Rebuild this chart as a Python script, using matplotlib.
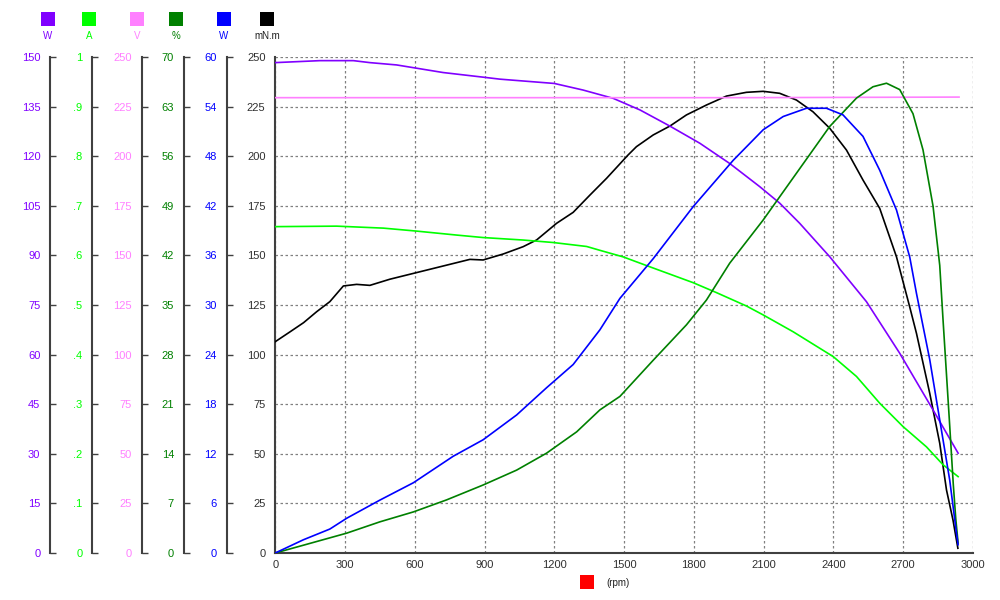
import matplotlib
matplotlib.use('Agg')
import matplotlib.pyplot as plt
from matplotlib.patches import Rectangle
from matplotlib.ticker import FuncFormatter

plt.rcParams['font.family'] = ['Liberation Sans', 'DejaVu Sans']

# torque (mN.m) - main axis
rpm_t = [0, 64, 122, 178, 235, 293, 350, 407, 493, 665, 837, 894, 980, 1066, 1124,
         1210, 1281, 1353, 1425, 1517, 1553, 1625, 1697, 1768, 1854, 1940, 2026, 2098,
         2169, 2241, 2312, 2384, 2456, 2527, 2599, 2671, 2728, 2757, 2814, 2857, 2886,
         2914, 2935]
torque = [106.5, 111.5, 116.1, 121.6, 126.7, 134.6, 135.4, 134.9, 138.0, 143.0, 148.0,
          147.7, 150.7, 154.4, 157.8, 166.2, 171.7, 180.4, 188.9, 200.6, 204.8, 210.7,
          215.2, 220.8, 225.8, 230.3, 232.2, 232.7, 231.7, 228.3, 222.4, 214.1, 203.1,
          188.0, 173.7, 149.3, 124.0, 110.7, 80.5, 55.3, 31.8, 16.6, 2.4]

# input power (W)
rpm_pin = [0, 193, 336, 407, 522, 722, 894, 966, 1200, 1324, 1453, 1568, 1697, 1826,
           1954, 2083, 2169, 2255, 2384, 2542, 2685, 2828, 2936]
p_in = [148.3, 148.9, 148.9, 148.3, 147.6, 145.3, 143.9, 143.3, 142.0, 140.0, 137.5,
        134.0, 129.1, 123.9, 117.8, 110.8, 105.8, 99.7, 89.6, 76.0, 60.4, 43.3, 30.2]

# current (A)
rpm_a = [0, 264, 465, 608, 780, 894, 1066, 1195, 1339, 1398, 1496, 1611, 1797, 1897,
         2026, 2098, 2227, 2399, 2499, 2599, 2699, 2800, 2871, 2936]
amps = [0.658, 0.659, 0.655, 0.649, 0.641, 0.636, 0.631, 0.626, 0.618, 0.610, 0.597,
        0.577, 0.545, 0.525, 0.498, 0.480, 0.446, 0.396, 0.356, 0.302, 0.255, 0.214,
        0.178, 0.154]

# voltage (V)
rpm_v = [0, 1000, 2000, 2940]
volts = [229.5, 229.5, 229.5, 229.8]

# efficiency (%)
rpm_eff = [0, 121, 307, 450, 594, 737, 894, 1038, 1167, 1296, 1396, 1482, 1625, 1768,
           1854, 1954, 2098, 2241, 2384, 2499, 2570, 2628, 2685, 2742, 2785, 2828, 2857,
           2871, 2886, 2900, 2915, 2926, 2936]
eff = [0, 1.1, 2.8, 4.4, 5.8, 7.5, 9.6, 11.7, 14.1, 17.1, 20.2, 22.1, 27.2, 32.2, 35.7,
       40.9, 47.0, 53.6, 60.2, 64.2, 65.8, 66.3, 65.4, 62.0, 56.9, 49.0, 40.6, 33.0,
       25.2, 17.9, 9.8, 4.8, 1.4]

# output power (W)
rpm_pout = [0, 121, 235, 307, 450, 594, 765, 894, 1038, 1167, 1281, 1396, 1482, 1625,
            1797, 1969, 2098, 2184, 2284, 2370, 2441, 2527, 2599, 2671, 2728, 2757, 2814,
            2857, 2900, 2929, 2936]
p_out = [0, 1.6, 2.9, 4.2, 6.4, 8.5, 11.7, 13.7, 16.7, 20.0, 22.8, 27.0, 30.8, 35.6,
         41.9, 47.5, 51.2, 52.8, 53.8, 53.8, 53.0, 50.4, 46.3, 41.5, 35.8, 31.4, 23.4,
         16.1, 8.8, 2.4, 1.0]

x_ticks = list(range(0, 3001, 300))
main_ticks = list(range(0, 251, 25))

spine_col = '#404040'
fig = plt.figure(figsize=(10, 6), dpi=100)
ax = fig.add_axes([0.2752, 0.0783, 0.6978, 0.8267])
ax.set_xlim(0, 3000)
ax.set_ylim(0, 250)
ax.set_xticks(x_ticks)
ax.set_yticks(main_ticks)
ax.grid(True, color='#808080', linestyle=(0, (2, 2)), linewidth=0.9)
for s in ['top', 'right']:
    ax.spines[s].set_visible(False)
for s in ['left', 'bottom']:
    ax.spines[s].set_color(spine_col)
    ax.spines[s].set_linewidth(1.5)
ax.tick_params(axis='both', length=0, labelsize=8, colors='#303030')
ax.tick_params(axis='y', pad=7)
ax.tick_params(axis='x', pad=5)
ax.plot(rpm_t, torque, color='black', lw=1.2, zorder=5)

# extra y axes: (x, y, color, max, spine offset, formatter)
series = [
    (rpm_pin, p_in, '#8000FF', 150, -0.3227, None),
    (rpm_a, amps, '#00FF00', 1.0, -0.2621,
     FuncFormatter(lambda v, p: '0' if v < 1e-9 else ('1' if v > 0.999 else ('%.1f' % v)[1:]))),
    (rpm_v, volts, '#FF80FF', 250, -0.1913, None),
    (rpm_eff, eff, '#008000', 70, -0.1311, None),
    (rpm_pout, p_out, '#0000FF', 60, -0.0695, None),
]
for xs, ys, col, top, off, fmt in series:
    a2 = ax.twinx()
    a2.set_ylim(0, top)
    a2.set_yticks([top * i / 10 for i in range(11)])
    if fmt is not None:
        a2.yaxis.set_major_formatter(fmt)
    else:
        a2.yaxis.set_major_formatter(FuncFormatter(lambda v, p: '%d' % round(v)))
    for s in ['top', 'right', 'bottom']:
        a2.spines[s].set_visible(False)
    a2.spines['left'].set_visible(True)
    a2.spines['left'].set_position(('axes', off))
    a2.spines['left'].set_color(spine_col)
    a2.spines['left'].set_linewidth(1.5)
    a2.yaxis.set_ticks_position('left')
    a2.tick_params(axis='y', direction='in', length=4, width=1, color=spine_col,
                   labelcolor=col, labelsize=8, pad=7)
    a2.plot(xs, ys, color=col, lw=1.2)

# legend squares on top
legend_cols = ['#8000FF', '#00FF00', '#FF80FF', '#008000', '#0000FF', 'black']
legend_labels = ['W', 'A', 'V', '%', 'W', 'mN.m']
legend_x = [48, 89, 137, 176, 224, 267]
for xc, c, lab in zip(legend_x, legend_cols, legend_labels):
    fig.add_artist(Rectangle(((xc - 7) / 1000, 1 - 26 / 600), 14 / 1000, 14 / 600,
                             transform=fig.transFigure, facecolor=c, edgecolor='none'))
    fig.text(xc / 1000, 1 - 36 / 600, lab, color=c if c != 'black' else '#202020',
             fontsize=7, ha='center', va='center')

# x axis label
fig.add_artist(Rectangle((580 / 1000, 1 - 589 / 600), 14 / 1000, 14 / 600,
                         transform=fig.transFigure, facecolor='#FF0000', edgecolor='none'))
fig.text(606 / 1000, 1 - 583 / 600, '(rpm)', fontsize=7, color='#202020',
         ha='left', va='center')

fig.savefig('out.png', dpi=100)
